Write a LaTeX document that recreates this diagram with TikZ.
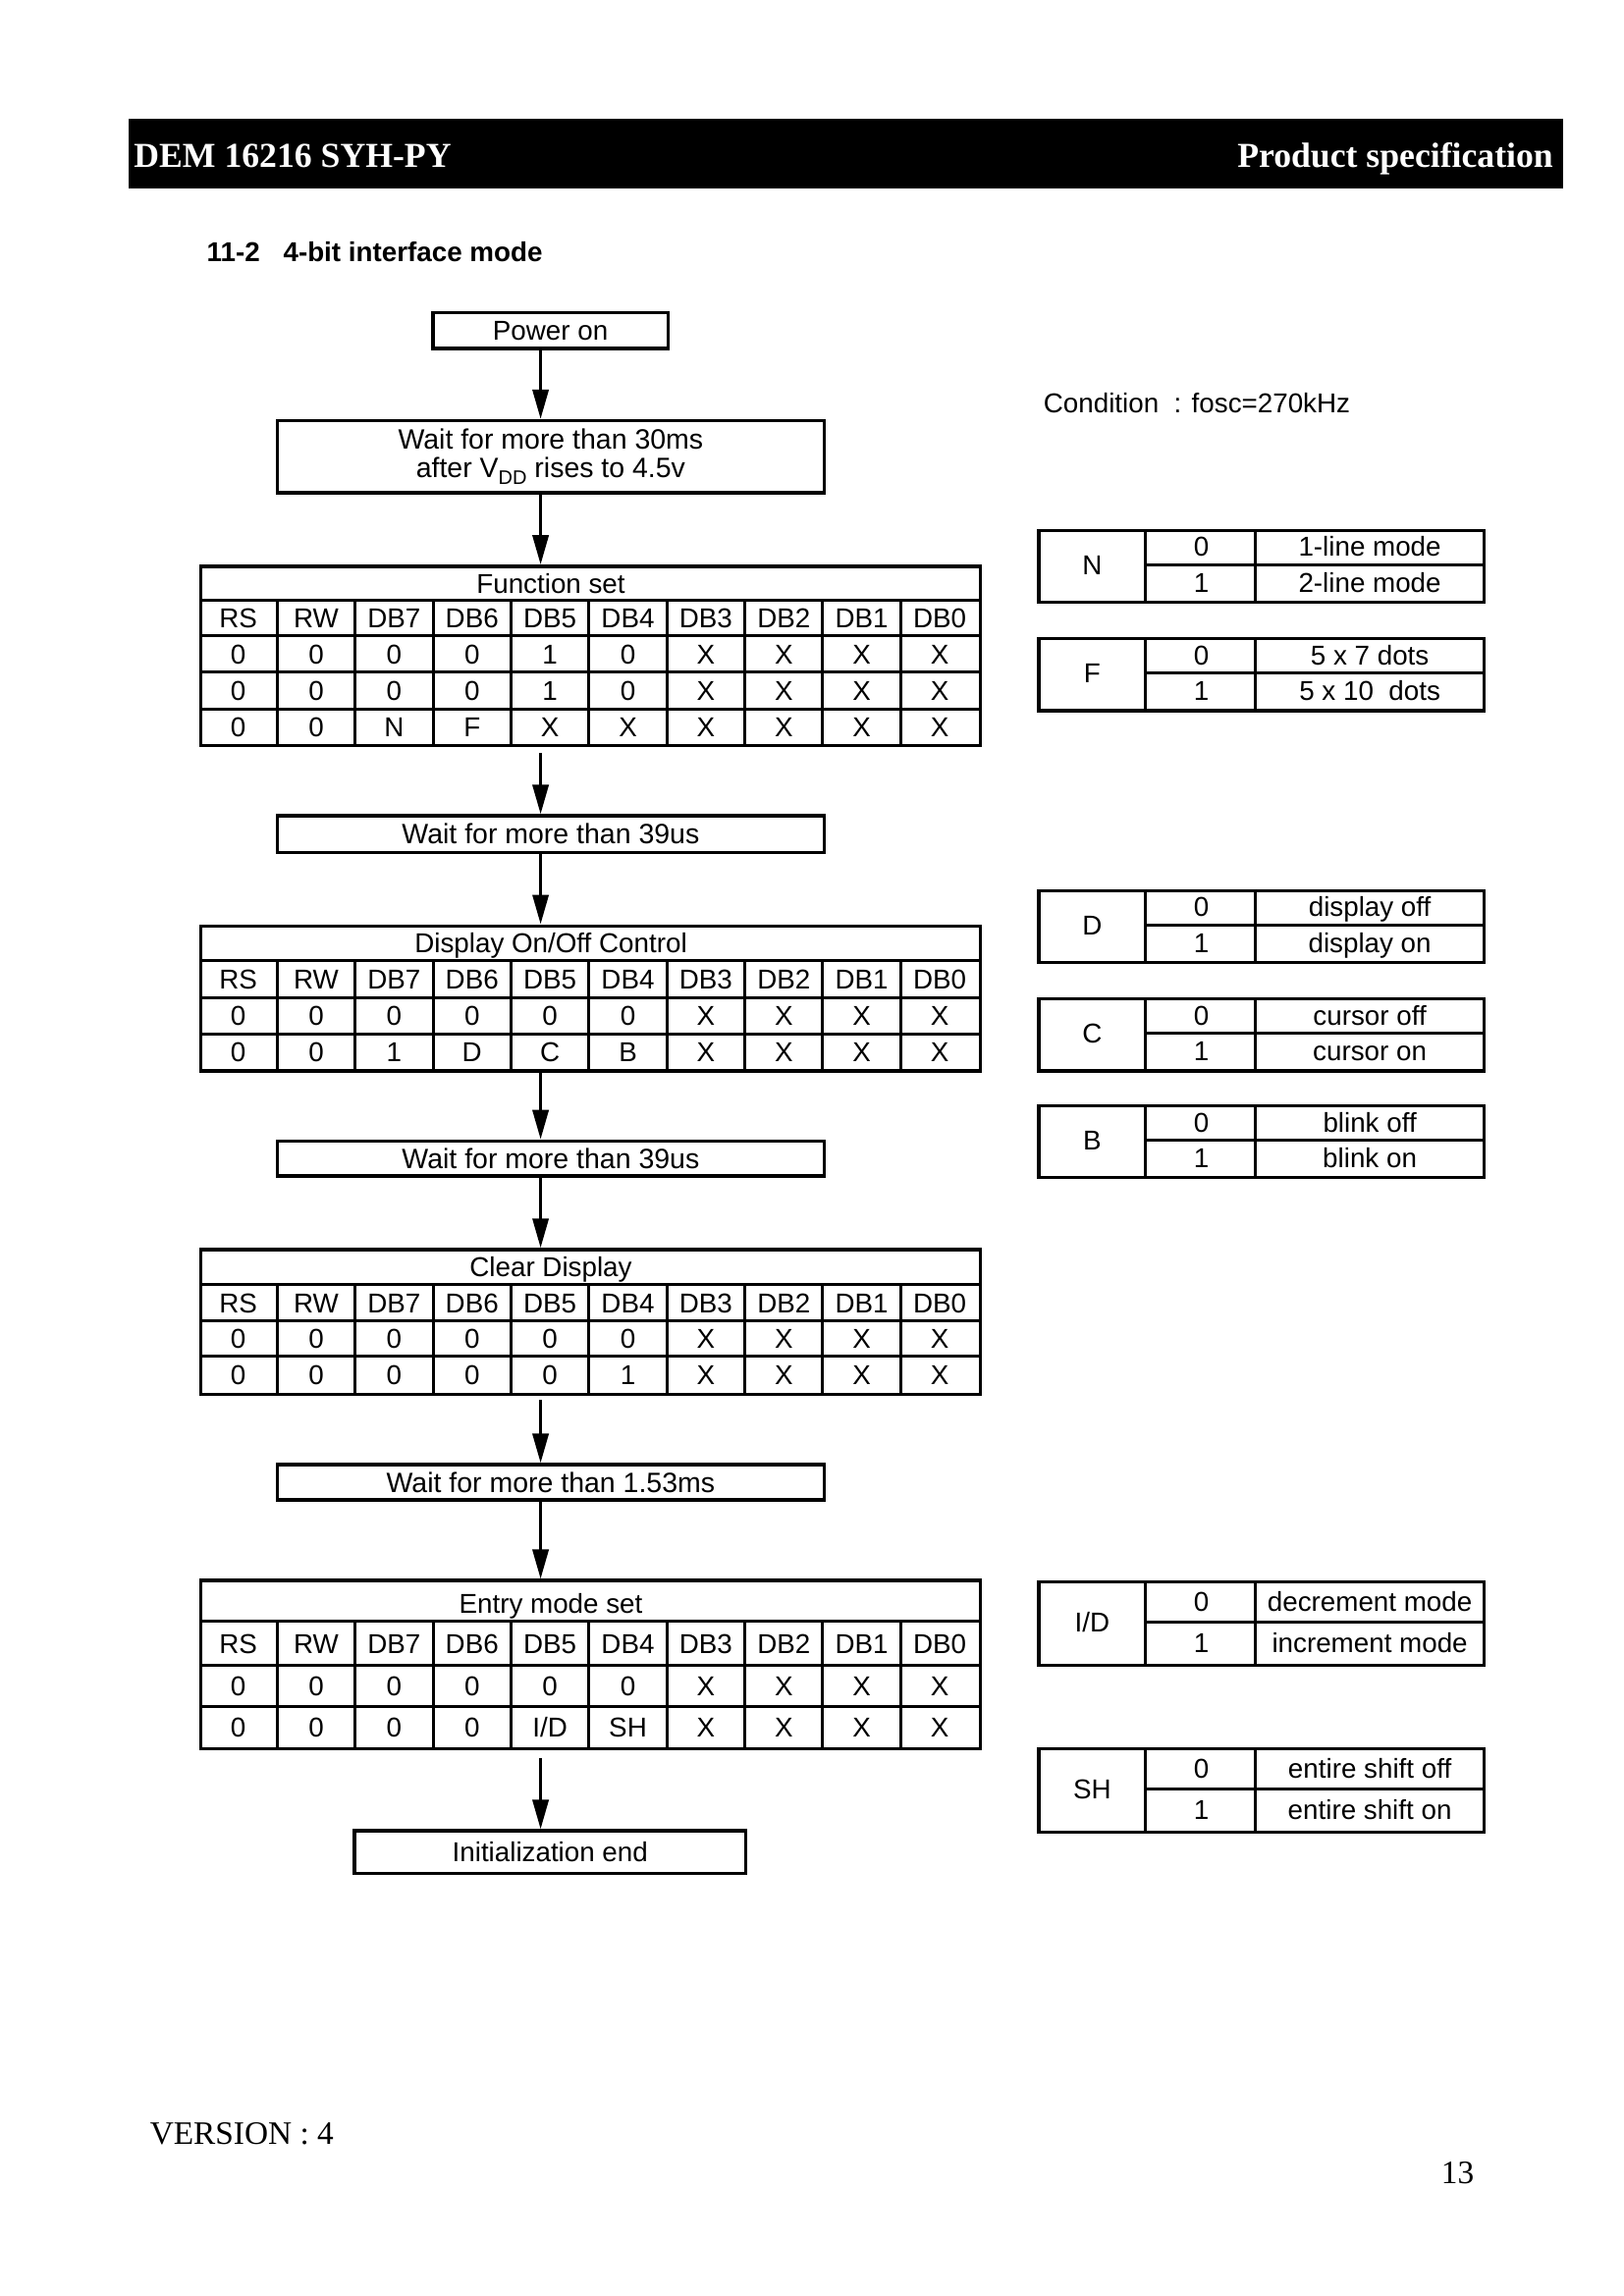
\documentclass[tikz,border=0pt]{standalone}
\usepackage{fontspec}
\setmainfont{Liberation Sans}
\newfontfamily\timesfont{Liberation Serif}
\usetikzlibrary{arrows.meta,calc}
\def\U{0.53713pt}
\tikzset{
  box/.style={draw, line width=1.2pt, inner sep=0pt, align=center},
  frame/.style={draw, line width=1.2pt, inner sep=0pt},
  grid/.style={line width=1.1pt},
  cell/.style={inner sep=0pt, text height=7.2pt, text depth=0pt},
  txt/.style={inner sep=0pt},
  waitfont/.style={font=\fontsize{10.25}{10.3}\selectfont},
  arr/.style={-{Triangle[length=10.8pt,width=5.8pt]}, line width=1.2pt},
}
\newcommand{\rbox}[7][]{\node[box, #1, minimum width={(#5-#3)*\U}, minimum height={(#6-#4)*\U}] (#2) at ({(#3+#5)/2},{(#4+#6)/2}) {#7};}
\newcommand{\tframe}[3]{\node[frame, minimum width={532*\U}, minimum height={(#3-#2)*\U}, anchor=north west] (#1) at (136,#2) {};}
\newcommand{\tgrid}[3]{%
  \foreach \k in {1,...,9} \draw[grid] ({136+53.2*\k},#1) -- ({136+53.2*\k},#2);
  \foreach \h in {#3} \draw[grid] (136,\h) -- (668,\h);}
\newcommand{\cellrow}[4]{%
  \foreach \v [count=\i] in {#4} {\node[cell] (#1-\i) at ({136+53.2*(\i-0.5)},{(#2+#3)/2}) {\v};}}
\newcommand{\optable}[6]{% name, top, bottom, letter, desc0, desc1
  \node[frame, minimum width={304*\U}, minimum height={(#3-#2)*\U}, anchor=north west] (#1) at (708,#2) {};
  \draw[grid] (782,#2) -- (782,#3);
  \draw[grid] (857,#2) -- (857,#3);
  \draw[grid] (782,{(#2+#3)/2}) -- (1012,{(#2+#3)/2});
  \node[cell] (#1-l) at (745.5,{(#2+#3)/2}) {#4};
  \node[cell] (#1-v0) at (820,{(3*#2+#3)/4}) {0};
  \node[cell] (#1-v1) at (820,{(#2+3*#3)/4}) {1};
  \node[cell] (#1-d0) at (935,{(3*#2+#3)/4}) {#5};
  \node[cell] (#1-d1) at (935,{(#2+3*#3)/4}) {#6};}
\begin{document}
\begin{tikzpicture}[x=0.53713pt,y=-0.53713pt,font=\fontsize{10}{12}\selectfont]
\useasboundingbox (0,0) rectangle (1108.3,1567.6);
\fill[white] (0,0) rectangle (1108.3,1567.6);
% header bar
\node[fill=black, inner sep=0pt, minimum width={979.3*\U}, minimum height={48*\U}, anchor=north west] (bar) at (87.2,80.5) {};
\node[txt, anchor=base west, text=white, font=\timesfont\bfseries\fontsize{12.85}{15}\selectfont] (doc) at (91,114.4) {DEM 16216 SYH-PY};
\node[txt, anchor=base east, text=white, font=\timesfont\bfseries\fontsize{12.85}{15}\selectfont] (spec) at (1060.5,114.4) {Product specification};
\node[txt, anchor=base west, font=\bfseries\fontsize{10}{12}\selectfont] (title) at (140.8,178.8) {11-2\hspace{8.6pt}4-bit interface mode};
\node[txt, anchor=base west] (cond) at (712,281.5) {Condition\ \ : fosc=270kHz};
\coordinate (ax) at (369,0);
% boxes
\rbox{pw}{295.5}{213.4}{455.9}{238}{\rule{0pt}{7.2pt}Power on}
\rbox[waitfont]{w30}{189.3}{287.2}{562.5}{336.4}{Wait for more than 30ms\\after V\raisebox{-0.45ex}{\fontsize{7.2}{8}\selectfont DD} rises to 4.5v\rule[-1.5pt]{0pt}{1pt}}
\rbox[waitfont]{w39a}{189.3}{557}{562.5}{582}{\rule{0pt}{7.2pt}Wait for more than 39us}
\rbox[waitfont]{w39b}{189.3}{779}{562.5}{803}{\rule{0pt}{7.2pt}Wait for more than 39us}
\rbox[waitfont]{w153}{189.3}{1000}{562.5}{1024}{\rule{0pt}{7.2pt}Wait for more than 1.53ms}
\rbox{ie}{242}{1250}{509}{1279}{\rule{0pt}{7.2pt}Initialization end}
% Function set
\tframe{fs}{385.5}{508}
\tgrid{410}{508}{410,434,459,484}
\node[cell] (fs-t) at (376,398.3) {Function set};
\cellrow{fsh}{410}{434}{RS,RW,DB7,DB6,DB5,DB4,DB3,DB2,DB1,DB0}
\cellrow{fsa}{434}{459}{0,0,0,0,1,0,X,X,X,X}
\cellrow{fsb}{459}{484}{0,0,0,0,1,0,X,X,X,X}
\cellrow{fsc}{484}{508}{0,0,N,F,X,X,X,X,X,X}
% Display on/off
\tframe{dc}{631}{730}
\tgrid{656}{730}{656,681,706}
\node[cell] (dc-t) at (376,644) {Display On/Off Control};
\cellrow{dch}{656}{681}{RS,RW,DB7,DB6,DB5,DB4,DB3,DB2,DB1,DB0}
\cellrow{dca}{681}{706}{0,0,0,0,0,0,X,X,X,X}
\cellrow{dcb}{706}{730}{0,0,1,D,C,B,X,X,X,X}
% Clear display
\tframe{cd}{852}{951}
\tgrid{877}{951}{877,902,926}
\node[cell] (cd-t) at (376,865) {Clear Display};
\cellrow{cdh}{877}{902}{RS,RW,DB7,DB6,DB5,DB4,DB3,DB2,DB1,DB0}
\cellrow{cda}{902}{926}{0,0,0,0,0,0,X,X,X,X}
\cellrow{cdb}{926}{951}{0,0,0,0,0,1,X,X,X,X}
% Entry mode set
\tframe{em}{1078}{1193}
\tgrid{1107}{1193}{1107,1137,1165}
\node[cell] (em-t) at (376,1094.5) {Entry mode set};
\cellrow{emh}{1107}{1137}{RS,RW,DB7,DB6,DB5,DB4,DB3,DB2,DB1,DB0}
\cellrow{ema}{1137}{1165}{0,0,0,0,0,0,X,X,X,X}
\cellrow{emb}{1165}{1193}{0,0,0,0,I/D,SH,X,X,X,X}
% arrows
\draw[arr] (pw.south -| ax) -- (w30.north -| ax);
\draw[arr] (w30.south -| ax) -- (fs.north -| ax);
\draw[arr, shorten <=2.2pt] (fs.south -| ax) -- (w39a.north -| ax);
\draw[arr] (w39a.south -| ax) -- (dc.north -| ax);
\draw[arr] (dc.south -| ax) -- (w39b.north -| ax);
\draw[arr] (w39b.south -| ax) -- (cd.north -| ax);
\draw[arr, shorten <=1.5pt] (cd.south -| ax) -- (w153.north -| ax);
\draw[arr] (w153.south -| ax) -- (em.north -| ax);
\draw[arr, shorten <=2.7pt] (em.south -| ax) -- (ie.north -| ax);
% right tables
\optable{tn}{361}{410}{N}{1-line mode}{2-line mode}
\optable{tf}{435}{484}{F}{5 x 7 dots}{5 x 10\ \ dots}
\optable{td}{607}{656}{D}{display off}{display on}
\optable{tc}{681}{730}{C}{cursor off}{cursor on}
\optable{tb}{754}{803}{B}{blink off}{blink on}
\optable{tid}{1079}{1136}{I/D}{decrement mode}{increment mode}
\optable{tsh}{1193}{1250}{SH}{entire shift off}{entire shift on}
% footer
\node[txt, anchor=base west, font=\timesfont\fontsize{12}{14}\selectfont] (ver) at (102,1464) {VERSION : 4};
\node[txt, anchor=base, font=\timesfont\fontsize{12}{14}\selectfont] (pg) at (995,1491) {13};
\end{tikzpicture}
\end{document}
